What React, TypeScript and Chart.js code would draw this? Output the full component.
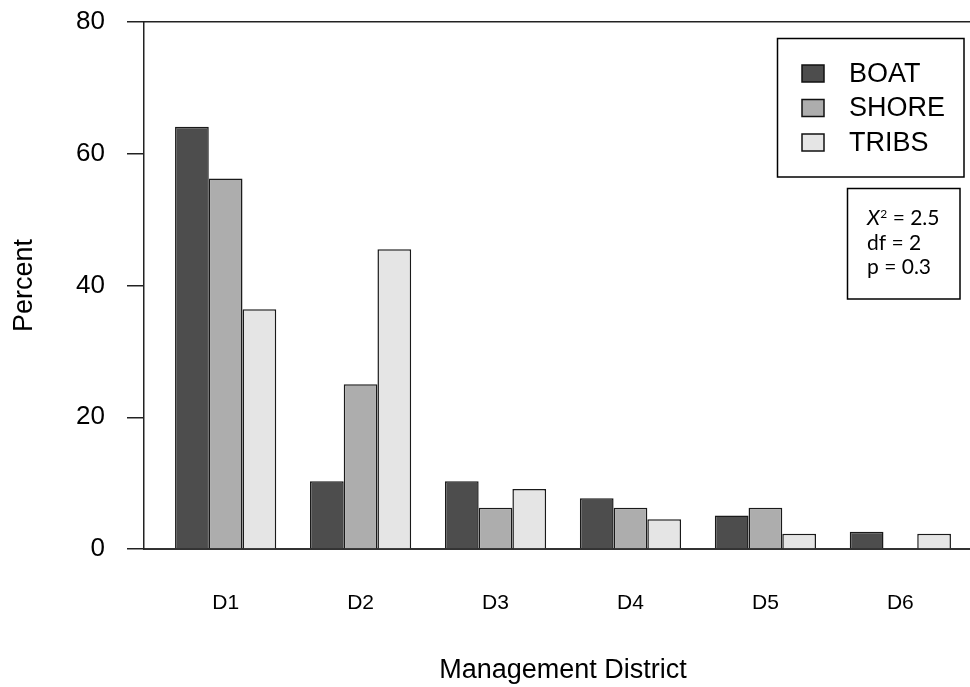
import { useEffect, useRef } from 'react';
import { Chart, registerables } from 'chart.js';

Chart.register(...registerables);

// Share of anglers (%) in each management district, by fishing group
const districts = ['D1', 'D2', 'D3', 'D4', 'D5', 'D6'];
const boat = [64.1, 10.3, 10.3, 7.7, 5.1, 2.6];
const shore = [56.25, 25.0, 6.25, 6.25, 6.25, 0];
const tribs = [36.4, 45.5, 9.1, 4.5, 2.3, 2.3];
const seriesNames = ['BOAT', 'SHORE', 'TRIBS'];
const seriesFills = ['#4d4d4d', '#adadad', '#e5e5e5'];
const yTicks = [0, 20, 40, 60, 80];
const statLines = ['= 2.5', 'df = 2', 'p = 0.3'];

// R-style barplot extent: the box spans from 0.605 of a group before the
// first group centre to 0.605 after the last one
const GROUP_MARGIN = 0.605;

const SANS = '"Liberation Sans", Arial, sans-serif';
const STAT_FONT = 'Lato, "Open Sans", sans-serif';

const legendAndStats = {
  id: 'legendAndStats',
  afterDraw(chart: any) {
    const ctx = chart.ctx as CanvasRenderingContext2D;
    ctx.save();

    // legend frame
    ctx.strokeStyle = '#000';
    ctx.lineWidth = 1.5;
    ctx.strokeRect(777.5, 38.5, 186.5, 138.5);

    ctx.font = `27px ${SANS}`;
    ctx.textBaseline = 'middle';
    ctx.textAlign = 'left';
    chart.data.datasets.forEach((ds: any, i: number) => {
      const cy = 73.5 + i * 34.5;
      ctx.fillStyle = ds.backgroundColor;
      ctx.fillRect(802, cy - 8.5, 22, 17);
      ctx.lineWidth = 1.5;
      ctx.strokeStyle = '#111';
      ctx.strokeRect(802, cy - 8.5, 22, 17);
      ctx.fillStyle = '#000';
      ctx.fillText(ds.label, 849, cy + 1);
    });

    // chi-square summary box
    ctx.lineWidth = 1.5;
    ctx.strokeStyle = '#000';
    ctx.strokeRect(847.5, 188.5, 112.5, 110.5);

    ctx.textBaseline = 'alphabetic';
    ctx.fillStyle = '#000';
    const left = 867;
    const base0 = 225;
    ctx.font = `italic 21px ${STAT_FONT}`;
    ctx.fillText('X', left, base0);
    const wX = ctx.measureText('X').width;
    ctx.font = `12px ${STAT_FONT}`;
    ctx.fillText('2', left + wX + 0.5, base0 - 7);
    const w2 = ctx.measureText('2').width;
    ctx.font = `21px ${STAT_FONT}`;
    ctx.fillText(' ' + statLines[0], left + wX + w2 + 0.5, base0);
    ctx.fillText(statLines[1], left, base0 + 24.5);
    ctx.fillText(statLines[2], left, base0 + 49);

    ctx.restore();
  },
};

export default function App() {
  const canvasRef = useRef<HTMLCanvasElement | null>(null);

  useEffect(() => {
    const canvas = canvasRef.current;
    if (!canvas) return;
    const values = [boat, shore, tribs];

    const chart = new Chart(canvas, {
      type: 'bar',
      data: {
        labels: districts,
        datasets: seriesNames.map((name, i) => ({
          label: name,
          data: values[i],
          backgroundColor: seriesFills[i],
          borderColor: '#1a1a1a',
          borderWidth: 1.5,
          categoryPercentage: 0.75,
          barPercentage: 1.0,
        })),
      },
      options: {
        animation: false,
        responsive: false,
        devicePixelRatio: 1,
        layout: { autoPadding: false, padding: { top: 22, left: 0, right: 8, bottom: 0 } },
        plugins: {
          legend: { display: false },
          tooltip: { enabled: false },
        },
        scales: {
          x: {
            type: 'category',
            position: 'bottom',
            offset: false,
            grid: { display: false, drawTicks: false },
            border: { display: true, color: '#333', width: 2 },
            ticks: {
              color: '#000',
              padding: 42,
              font: { family: SANS, size: 21 },
              maxRotation: 0,
              autoSkip: false,
            },
            title: {
              display: true,
              text: 'Management District',
              color: '#000',
              font: { family: SANS, size: 27 },
              padding: { top: 0, bottom: 0 },
            },
            afterFit(scale: any) {
              scale.height = 138;
              scale.paddingLeft = 0;
              scale.paddingRight = 0;
            },
            afterBuildTicks(scale: any) {
              const n = districts.length;
              scale.ticks = districts.map((_, i) => ({ value: i }));
              scale._startValue = -GROUP_MARGIN;
              scale._valueRange = n - 1 + 2 * GROUP_MARGIN;
            },
          },
          xTop: {
            type: 'category',
            position: 'top',
            offset: false,
            grid: { display: false, drawTicks: false },
            border: { display: true, color: '#222', width: 1.5 },
            ticks: { display: false },
            afterFit(scale: any) {
              scale.height = 0;
              scale.paddingLeft = 0;
              scale.paddingRight = 0;
            },
          },
          y: {
            min: 0,
            max: 80,
            afterBuildTicks(scale: any) {
              scale.ticks = yTicks.map((v) => ({ value: v }));
            },
            grid: {
              display: true,
              drawOnChartArea: false,
              drawTicks: true,
              tickLength: 17,
              color: '#222',
              lineWidth: 1.5,
            },
            border: { display: true, color: '#222', width: 1.5 },
            ticks: {
              color: '#000',
              padding: 22,
              font: { family: SANS, size: 26 },
            },
            title: {
              display: true,
              text: 'Percent',
              color: '#000',
              font: { family: SANS, size: 27 },
              padding: { top: 8, bottom: 0 },
            },
            afterFit(scale: any) {
              scale.width = 144;
              scale.paddingTop = 0;
              scale.paddingBottom = 0;
            },
          },
        },
      },
      plugins: [legendAndStats],
    });

    return () => chart.destroy();
  }, []);

  return (
    <div
      style={{
        position: 'fixed',
        left: 0,
        top: 0,
        width: 970,
        height: 687,
        overflow: 'hidden',
        background: '#fff',
      }}
    >
      <canvas ref={canvasRef} width={990} height={687} style={{ display: 'block' }} />
    </div>
  );
}
